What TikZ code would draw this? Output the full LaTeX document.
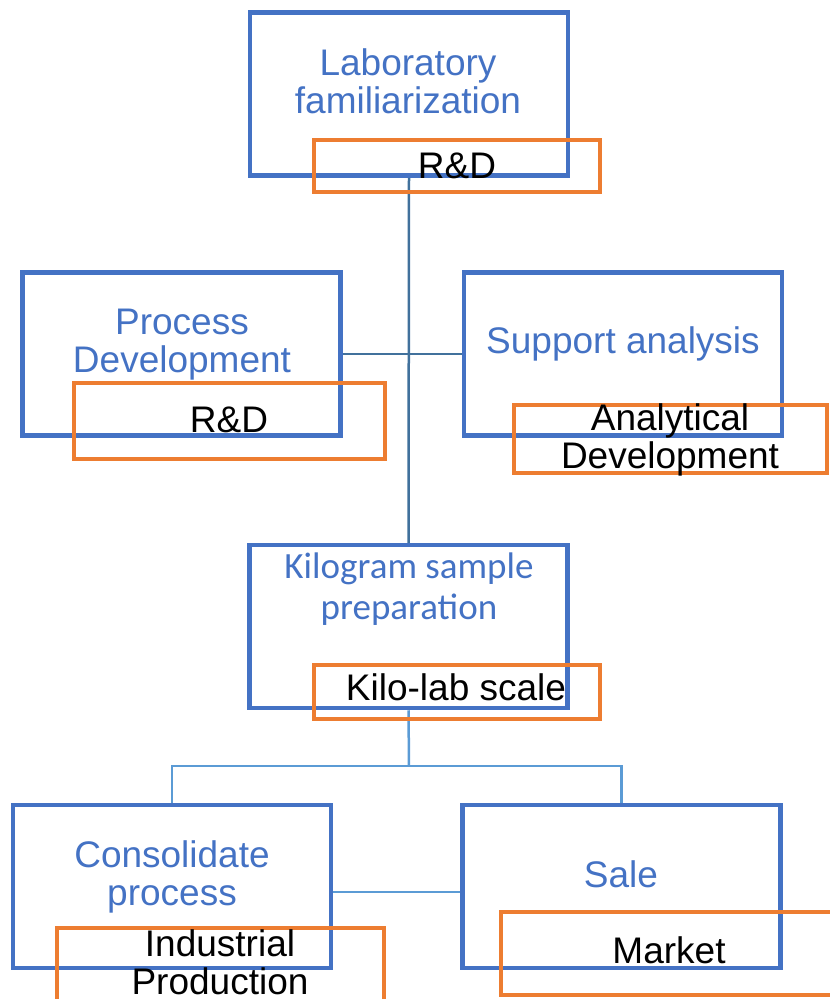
\documentclass[tikz,border=0pt]{standalone}
\usepackage{fontspec}
\setmainfont{Liberation Sans}
\newfontfamily\calib{Carlito}
\definecolor{boxblue}{HTML}{4472C4}
\definecolor{boxorange}{HTML}{ED7D31}
\definecolor{linkdark}{HTML}{41719C}
\definecolor{linklight}{HTML}{5B9BD5}
\tikzset{
  bluebox/.style={draw=boxblue, line width=4.5pt, rectangle, inner sep=0pt, minimum width=318pt, minimum height=163pt},
  orangebox/.style={draw=boxorange, line width=4pt, rectangle, inner sep=0pt},
  title/.style={text=boxblue, align=center, anchor=base, inner sep=0pt, font=\fontsize{37}{38}\selectfont},
  tag/.style={text=black, align=center, anchor=base, inner sep=0pt, font=\fontsize{37}{38}\selectfont},
  linkA/.style={draw=linkdark, line width=2.5pt},
  linkB/.style={draw=linklight, line width=2.5pt}
}
\begin{document}
\begin{tikzpicture}[x=1pt, y=-1pt]
\useasboundingbox (0,0) rectangle (830,999);
% blue boxes
\node[bluebox] (lab) at (409,94) {};
\node[bluebox] (pd) at (181.5,354) {};
\node[bluebox] (sa) at (623,354) {};
\node[bluebox] (kg) at (408.5,626.5) {};
\node[bluebox] (cp) at (172,886.5) {};
\node[bluebox] (sl) at (621.5,886.5) {};
% connectors
\draw[linkA] (lab.south) -- (kg.north);
\draw[linkA] (pd.east) -- (sa.west);
\coordinate (br) at (409,766);
\coordinate (bh) at (0,892);
\draw[linkB] (kg.south) -- (br);
\draw[linkB] (cp.north) |- (br) -| (sl.north);
\draw[linkB] (cp.east |- bh) -- (sl.west |- bh);
% orange boxes
\node[orangebox, minimum width=286pt, minimum height=52pt] (o1) at (457,166) {};
\node[orangebox, minimum width=311pt, minimum height=76pt] (o2) at (229.5,421) {};
\node[orangebox, minimum width=313pt, minimum height=68pt] (o3) at (670.5,439) {};
\node[orangebox, minimum width=286pt, minimum height=54pt] (o4) at (457,692) {};
\node[orangebox, minimum width=327pt, minimum height=80pt] (o5) at (220.5,968) {};
\node[orangebox, minimum width=335pt, minimum height=83pt] (o6) at (668.5,953.5) {};
% titles (multi-line: anchor at last baseline)
\node[title] (tlab) at (408,113) {Laboratory\\familiarization};
\node[title] (tpd) at (182,372) {Process\\Development};
\node[title] (tsa) at (623,353) {Support analysis};
\node[title, font=\calib\fontsize{37}{41}\selectfont] (tkg) at (409,619) {Kilogram sample\\preparation};
\node[title] (tcp) at (172,905) {Consolidate\\process};
\node[title] (tsl) at (621,887) {Sale};
% tags
\node[tag] (g1) at (457,178) {R\&D};
\node[tag] (g2) at (229,432) {R\&D};
\node[tag] (g3) at (670,468) {Analytical\\Development};
\node[tag] (g4) at (456,700) {Kilo-lab scale};
\node[tag] (g5) at (220,994) {Industrial\\Production};
\node[tag] (g6) at (669,963) {Market};
\end{tikzpicture}
\end{document}
